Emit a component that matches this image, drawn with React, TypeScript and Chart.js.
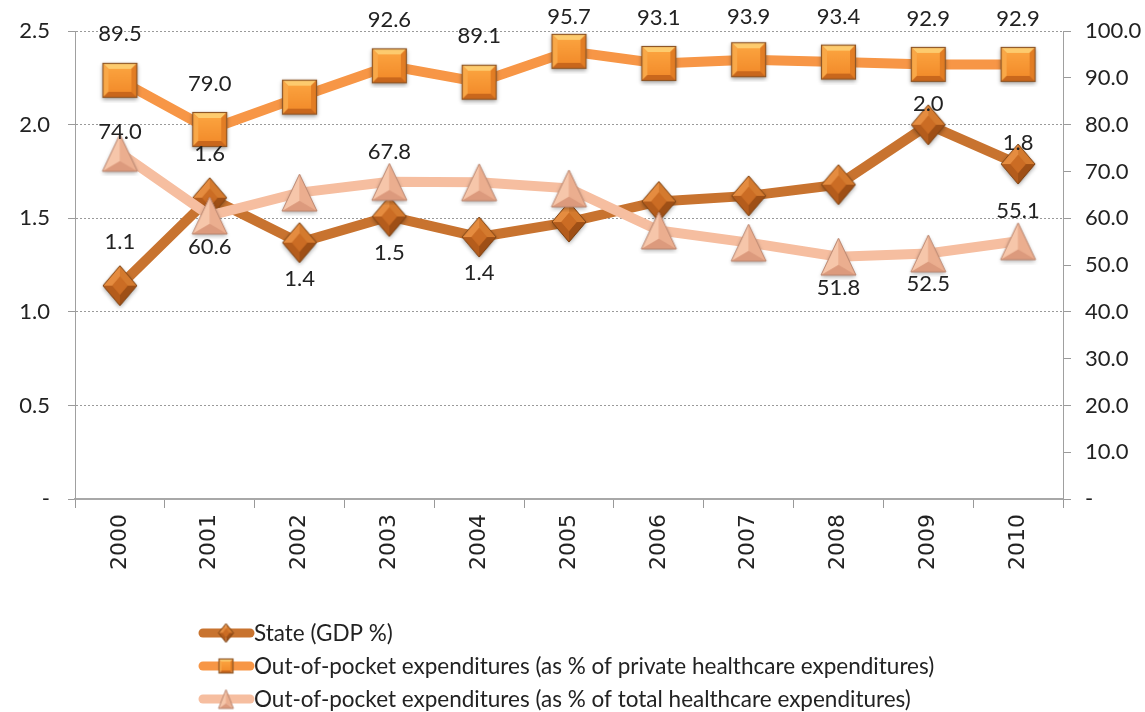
import React, { useEffect, useRef } from 'react';
import { Chart, registerables } from 'chart.js';

Chart.register(...registerables);

// ---------- DATA ----------
const years = ['2000', '2001', '2002', '2003', '2004', '2005', '2006', '2007', '2008', '2009', '2010'];
const stateGdp = [1.14, 1.61, 1.37, 1.51, 1.4, 1.48, 1.59, 1.62, 1.68, 2.0, 1.79];
const oopPrivate = [89.5, 79.0, 85.9, 92.6, 89.1, 95.7, 93.1, 93.9, 93.4, 92.9, 92.9];
const oopTotal = [74.0, 60.6, 65.5, 67.8, 67.7, 66.4, 57.4, 54.8, 51.8, 52.5, 55.1];

const stateLabels = ['1.1', '1.6', '1.4', '1.5', '1.4', '', '', '', '', '2.0', '1.8'];
const privateLabels = ['89.5', '79.0', '', '92.6', '89.1', '95.7', '93.1', '93.9', '93.4', '92.9', '92.9'];
const totalLabels = ['74.0', '60.6', '', '67.8', '', '', '', '', '51.8', '52.5', '55.1'];

const seriesNames = [
  'State (GDP %)',
  'Out-of-pocket expenditures (as % of private healthcare expenditures)',
  'Out-of-pocket expenditures (as % of total healthcare expenditures)',
];

// ---------- STYLE ----------
const statePos = ['a', 'a', 'b', 'b', 'b', '', '', '', '', 'n', 'n'];
const privatePos = ['a', 'a', '', 'a', 'a', 'a', 'a', 'a', 'a', 'a', 'a'];
const totalPos = ['n', 'b', '', 'a', '', '', '', '', 'b', 'b', 'a'];

const COLORS = {
  state: '#C8732F',
  priv: '#F79646',
  total: '#F6BEA0',
};

function mk(w: number, h: number, pad: number) {
  const c = document.createElement('canvas');
  c.width = w + pad * 2;
  c.height = h + pad * 2;
  return c;
}

function poly(g: CanvasRenderingContext2D, pts: number[][], fill: string) {
  g.beginPath();
  g.moveTo(pts[0][0], pts[0][1]);
  for (let i = 1; i < pts.length; i++) g.lineTo(pts[i][0], pts[i][1]);
  g.closePath();
  g.fillStyle = fill;
  g.fill();
}

function makeSquare(s: number, shadow: boolean) {
  const pad = 5;
  const c = mk(s, s, pad);
  const g = c.getContext('2d')!;
  const x0 = pad, y0 = pad, x1 = pad + s, y1 = pad + s;
  const b = Math.max(2, Math.round(s * 0.17));
  if (shadow) {
    g.save();
    g.shadowColor = 'rgba(0,0,0,0.35)';
    g.shadowBlur = 4;
    g.shadowOffsetY = 2;
    g.fillStyle = '#E8842A';
    g.fillRect(x0, y0, s, s);
    g.restore();
  }
  poly(g, [[x0, y0], [x1, y0], [x1 - b, y0 + b], [x0 + b, y0 + b]], '#FDCB6E');
  poly(g, [[x0, y0], [x0 + b, y0 + b], [x0 + b, y1 - b], [x0, y1]], '#F9A848');
  poly(g, [[x1, y0], [x1, y1], [x1 - b, y1 - b], [x1 - b, y0 + b]], '#E27D24');
  poly(g, [[x0, y1], [x0 + b, y1 - b], [x1 - b, y1 - b], [x1, y1]], '#C9671C');
  const gr = g.createLinearGradient(0, y0 + b, 0, y1 - b);
  gr.addColorStop(0, '#FBA23E');
  gr.addColorStop(1, '#F38D2C');
  g.fillStyle = gr;
  g.fillRect(x0 + b, y0 + b, s - 2 * b, s - 2 * b);
  g.strokeStyle = '#8E5626';
  g.lineWidth = 1.2;
  g.strokeRect(x0 + 0.5, y0 + 0.5, s - 1, s - 1);
  return c;
}

function makeDiamond(w: number, h: number, shadow: boolean) {
  const pad = 5;
  const c = mk(w, h, pad);
  const g = c.getContext('2d')!;
  const cx = pad + w / 2, cy = pad + h / 2;
  const T = [cx, pad], R = [pad + w, cy], B = [cx, pad + h], L = [pad, cy];
  if (shadow) {
    g.save();
    g.shadowColor = 'rgba(0,0,0,0.35)';
    g.shadowBlur = 4;
    g.shadowOffsetY = 2;
    poly(g, [T, R, B, L], '#C96A22');
    g.restore();
  }
  const k = 0.45;
  const iT = [cx, cy - (h / 2) * k], iR = [cx + (w / 2) * k, cy], iB = [cx, cy + (h / 2) * k], iL = [cx - (w / 2) * k, cy];
  poly(g, [T, iT, iL, L], '#E58C40');
  poly(g, [T, R, iR, iT], '#D47A2E');
  poly(g, [R, B, iB, iR], '#9E4F16');
  poly(g, [B, L, iL, iB], '#B45C1C');
  poly(g, [iT, iR, iB, iL], '#CB6C24');
  g.beginPath();
  g.moveTo(T[0], T[1]); g.lineTo(R[0], R[1]); g.lineTo(B[0], B[1]); g.lineTo(L[0], L[1]); g.closePath();
  g.strokeStyle = '#7A4214';
  g.lineWidth = 1;
  g.stroke();
  return c;
}

function makeTriangle(w: number, h: number, shadow: boolean) {
  const pad = 5;
  const c = mk(w, h, pad);
  const g = c.getContext('2d')!;
  const T = [pad + w / 2, pad], R = [pad + w, pad + h], L = [pad, pad + h];
  const C = [pad + w / 2, pad + h * 0.72];
  if (shadow) {
    g.save();
    g.shadowColor = 'rgba(0,0,0,0.3)';
    g.shadowBlur = 4;
    g.shadowOffsetY = 2;
    poly(g, [T, R, L], '#EDB293');
    g.restore();
  }
  poly(g, [T, C, L], '#F6C6AA');
  poly(g, [T, R, C], '#EBAE8F');
  poly(g, [L, C, R], '#DC9A7D');
  g.beginPath();
  g.moveTo(T[0], T[1]); g.lineTo(R[0], R[1]); g.lineTo(L[0], L[1]); g.closePath();
  g.strokeStyle = '#B98670';
  g.lineWidth = 1;
  g.stroke();
  return c;
}

const FONT = 'Lato, "Open Sans", sans-serif';

export default function App() {
  const ref = useRef<HTMLCanvasElement | null>(null);

  useEffect(() => {
    if (!ref.current) return;
    const sq = makeSquare(35, true);
    const di = makeDiamond(34, 40, true);
    const tr = makeTriangle(35, 37, true);
    const legendMarks = [makeDiamond(15, 19, false), makeSquare(15, false), makeTriangle(15, 19, false)];

    const labelSets = [
      { ds: 0, texts: stateLabels, pos: statePos, off: { a: -44, n: -21, b: 36 } as Record<string, number> },
      { ds: 1, texts: privateLabels, pos: privatePos, off: { a: -46 } as Record<string, number> },
      { ds: 2, texts: totalLabels, pos: totalPos, off: { a: -30, n: -21, b: 31 } as Record<string, number> },
    ];

    const labelPlugin = {
      id: 'valueLabels',
      afterDatasetsDraw(chart: any) {
        const ctx = chart.ctx;
        ctx.save();
        ctx.font = '22px ' + FONT;
        ctx.fillStyle = '#222';
        ctx.textAlign = 'center';
        ctx.textBaseline = 'middle';
        labelSets.forEach((set) => {
          const meta = chart.getDatasetMeta(set.ds);
          meta.data.forEach((pt: any, i: number) => {
            const t = set.texts[i];
            const p = set.pos[i];
            if (!t || !p) return;
            let y = pt.y + set.off[p];
            y = Math.max(y, 17);
            ctx.fillText(t, pt.x, y);
          });
        });
        ctx.restore();
      },
    };

    const legendPlugin = {
      id: 'customLegend',
      afterDraw(chart: any) {
        const ctx = chart.ctx;
        const cols = [COLORS.state, COLORS.priv, COLORS.total];
        const rows = [633, 666, 699];
        ctx.save();
        ctx.font = '22.5px ' + FONT;
        ctx.textBaseline = 'middle';
        ctx.textAlign = 'left';
        for (let i = 0; i < 3; i++) {
          const y = rows[i];
          ctx.strokeStyle = cols[i];
          ctx.lineWidth = 9;
          ctx.lineCap = 'round';
          ctx.beginPath();
          ctx.moveTo(203, y);
          ctx.lineTo(250, y);
          ctx.stroke();
          const m = legendMarks[i];
          ctx.drawImage(m, 226 - m.width / 2, y - m.height / 2);
          ctx.fillStyle = '#222';
          ctx.fillText(seriesNames[i], 254, y + 1);
        }
        ctx.restore();
      },
    };

    const chart = new Chart(ref.current, {
      type: 'line',
      data: {
        labels: years,
        datasets: [
          {
            label: seriesNames[0],
            data: stateGdp,
            yAxisID: 'y',
            borderColor: COLORS.state,
            backgroundColor: COLORS.state,
            borderWidth: 10,
            pointStyle: di as any,
            pointRadius: 12,
            order: 3,
            clip: false as any,
          },
          {
            label: seriesNames[1],
            data: oopPrivate,
            yAxisID: 'y1',
            borderColor: COLORS.priv,
            backgroundColor: COLORS.priv,
            borderWidth: 10,
            pointStyle: sq as any,
            pointRadius: 12,
            order: 2,
            clip: false as any,
          },
          {
            label: seriesNames[2],
            data: oopTotal,
            yAxisID: 'y1',
            borderColor: COLORS.total,
            backgroundColor: COLORS.total,
            borderWidth: 10,
            pointStyle: tr as any,
            pointRadius: 12,
            order: 1,
            clip: false as any,
          },
        ],
      },
      options: {
        animation: false,
        responsive: true,
        maintainAspectRatio: false,
        layout: { padding: { top: 30, left: 0, right: 0, bottom: 0 } },
        plugins: {
          legend: { display: false },
          tooltip: { enabled: false },
        },
        scales: {
          x: {
            type: 'category',
            offset: true,
            grid: {
              offset: true,
              drawOnChartArea: false,
              color: '#999',
              tickLength: 9,
            },
            border: { color: '#A8A8A8', width: 2 },
            ticks: {
              minRotation: 90,
              maxRotation: 90,
              autoSkip: false,
              padding: 6,
              color: '#222',
              font: { family: '"DejaVu Sans"', size: 22 },
            },
            afterFit(scale: any) {
              scale.height = 213;
            },
          },
          y: {
            position: 'left',
            min: 0,
            max: 2.5,
            ticks: {
              stepSize: 0.5,
              padding: 18,
              color: '#222',
              font: { family: FONT, size: 22 },
              callback: (v: any) => (Number(v) === 0 ? '-' : Number(v).toFixed(1)),
            },
            grid: {
              color: '#9A9A9A',
              lineWidth: 1,
              tickLength: 7,
              tickColor: '#9A9A9A',
            },
            border: { color: '#A0A0A0', width: 1, dash: [2, 2] },
            afterFit(scale: any) {
              scale.width = 75;
            },
          },
          y1: {
            position: 'right',
            min: 0,
            max: 100,
            ticks: {
              stepSize: 10,
              padding: 14,
              color: '#222',
              font: { family: FONT, size: 22 },
              callback: (v: any) => (Number(v) === 0 ? '-' : Number(v).toFixed(1)),
            },
            grid: {
              drawOnChartArea: false,
              color: '#9A9A9A',
              tickLength: 8,
            },
            border: { color: '#A0A0A0', width: 1 },
            afterFit(scale: any) {
              scale.width = 82;
            },
          },
        },
      } as any,
      plugins: [labelPlugin, legendPlugin],
    });
    return () => chart.destroy();
  }, []);

  return (
    <div style={{ position: 'fixed', left: 0, top: 0, width: 1145, height: 712, background: '#fff' }}>
      <canvas ref={ref} />
    </div>
  );
}
